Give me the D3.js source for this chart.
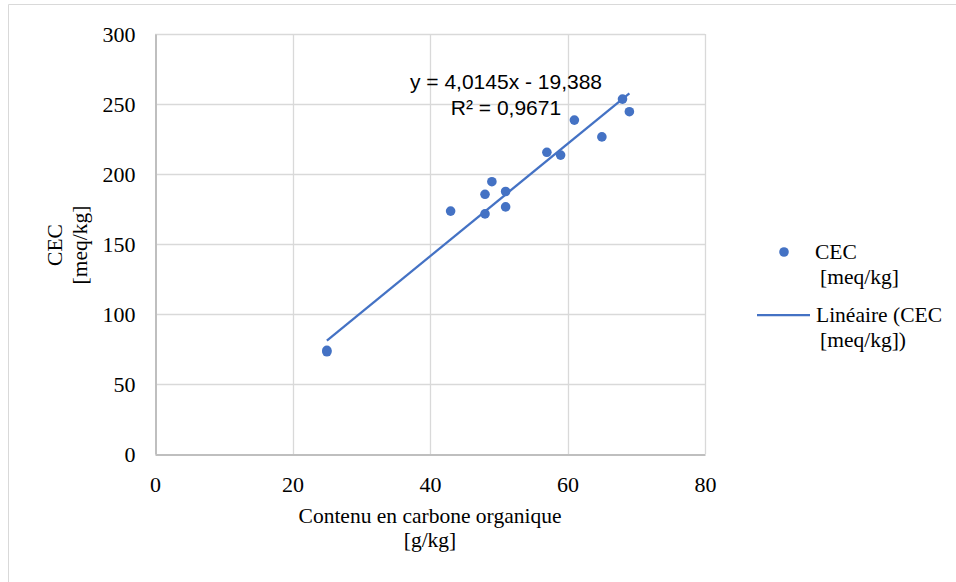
<!DOCTYPE html>
<html>
<head>
<meta charset="utf-8">
<script src="https://cdn.jsdelivr.net/npm/d3@7"></script>
<style>
  body { margin: 0; background: #fff; }
  svg { display: block; }
  .serif, .serif text { font-family: "Liberation Serif", "DejaVu Serif", Times, serif; }
  .sans { font-family: "Liberation Sans", Arial, sans-serif; }
</style>
</head>
<body>
<div id="chart"></div>
<script>
// carbon (g/kg) vs CEC (meq/kg)
const carbon = [25, 25, 43, 48, 48, 49, 51, 51, 57, 59, 61, 65, 68, 69];
const cec = [74, 73, 173.5, 185.5, 171.5, 194.5, 187.5, 176.5, 215.5, 213.5, 238.5, 226.5, 253.5, 244.5];
const xTicks = [0, 20, 40, 60, 80];
const yTicks = [0, 50, 100, 150, 200, 250, 300];
const slope = 4.0145, intercept = -19.388;
const eqText = "y = 4,0145x - 19,388";
const r2Text = "R² = 0,9671";
const blue = "#4472C4";

var width = 956, height = 582;
var margin = {top: 34, left: 155, right: 251, bottom: 128};

var svg = d3.select("#chart").append("svg")
  .attr("width", width)
  .attr("height", height);

// outer chart frame (only top + left visible in the crop)
svg.append("path")
  .attr("d", "M8.5," + height + " V4.5 H" + width)
  .attr("fill", "none")
  .attr("stroke", "#d9d9d9")
  .attr("stroke-width", 1);

var x = d3.scaleLinear().domain([0, 80]).range([margin.left, width - margin.right]);
var y = d3.scaleLinear().domain([0, 300]).range([height - margin.bottom, margin.top]);

// gridlines
svg.append("g")
  .selectAll("line")
  .data(yTicks.slice(1))
  .enter().append("line")
  .attr("x1", x(0)).attr("x2", x(80))
  .attr("y1", d => Math.round(y(d)) + 0.5).attr("y2", d => Math.round(y(d)) + 0.5)
  .attr("stroke", "#d9d9d9").attr("stroke-width", 1.3);

svg.append("g")
  .selectAll("line")
  .data(xTicks.slice(1))
  .enter().append("line")
  .attr("y1", y(0)).attr("y2", y(300))
  .attr("x1", d => Math.round(x(d)) + 0.5).attr("x2", d => Math.round(x(d)) + 0.5)
  .attr("stroke", "#d9d9d9").attr("stroke-width", 1.3);

// axes
var xAxis = svg.append("g")
  .attr("transform", "translate(0," + (Math.round(y(0)) + 0.5) + ")")
  .call(d3.axisBottom(x).tickValues(xTicks).tickSize(0).tickPadding(22));
var yAxis = svg.append("g")
  .attr("transform", "translate(" + (Math.round(x(0)) + 0.5) + ",0)")
  .call(d3.axisLeft(y).tickValues(yTicks).tickSize(0).tickPadding(20));

[xAxis, yAxis].forEach(function(a) {
  a.attr("font-family", null).attr("font-size", null).attr("class", "serif");
  a.select(".domain").attr("stroke", "#bfbfbf").attr("stroke-width", 2);
  a.selectAll("text")
    .style("font-size", "22px")
    .attr("fill", "#000");
});

// trend line
var line = d3.line()
  .x(d => x(d))
  .y(d => y(slope * d + intercept));
svg.append("path")
  .attr("d", line([d3.min(carbon), d3.max(carbon)]))
  .attr("fill", "none")
  .attr("stroke", blue)
  .attr("stroke-width", 2.25);

// points
svg.selectAll(".point")
  .data(carbon.map((c, i) => ({x: c, y: cec[i]})))
  .enter().append("circle")
  .attr("class", "point")
  .attr("cx", d => x(d.x))
  .attr("cy", d => y(d.y))
  .attr("r", 4.8)
  .attr("fill", blue);

// equation label
var eq = svg.append("g")
  .attr("class", "sans")
  .style("font-size", "21px")
  .attr("fill", "#000");
eq.append("text").attr("x", 506).attr("y", 89).attr("text-anchor", "middle").text(eqText);
eq.append("text").attr("x", 506).attr("y", 115).attr("text-anchor", "middle").text(r2Text);

// axis titles
var xt = svg.append("text")
  .attr("class", "serif")
  .attr("text-anchor", "middle")
  .style("font-size", "21.5px");
xt.append("tspan").attr("x", 430).attr("y", 523).text("Contenu en carbone organique");
xt.append("tspan").attr("x", 430).attr("y", 547).text("[g/kg]");

var yt = svg.append("text")
  .attr("class", "serif")
  .attr("text-anchor", "middle")
  .attr("transform", "translate(0,245) rotate(-90)")
  .style("font-size", "21.5px");
yt.append("tspan").attr("x", 0).attr("y", 62).text("CEC");
yt.append("tspan").attr("x", 0).attr("y", 87).text("[meq/kg]");

// legend
var lg = svg.append("g")
  .attr("class", "serif")
  .style("font-size", "21.5px");
lg.append("circle").attr("cx", 784).attr("cy", 252).attr("r", 4.8).attr("fill", blue);
lg.append("text").attr("x", 815).attr("y", 259).text("CEC");
lg.append("text").attr("x", 820).attr("y", 284).text("[meq/kg]");
lg.append("line").attr("x1", 757).attr("x2", 810).attr("y1", 315).attr("y2", 315)
  .attr("stroke", blue).attr("stroke-width", 2.25);
lg.append("text").attr("x", 816).attr("y", 322).text("Linéaire (CEC");
lg.append("text").attr("x", 820).attr("y", 347).text("[meq/kg])");
</script>
</body>
</html>
